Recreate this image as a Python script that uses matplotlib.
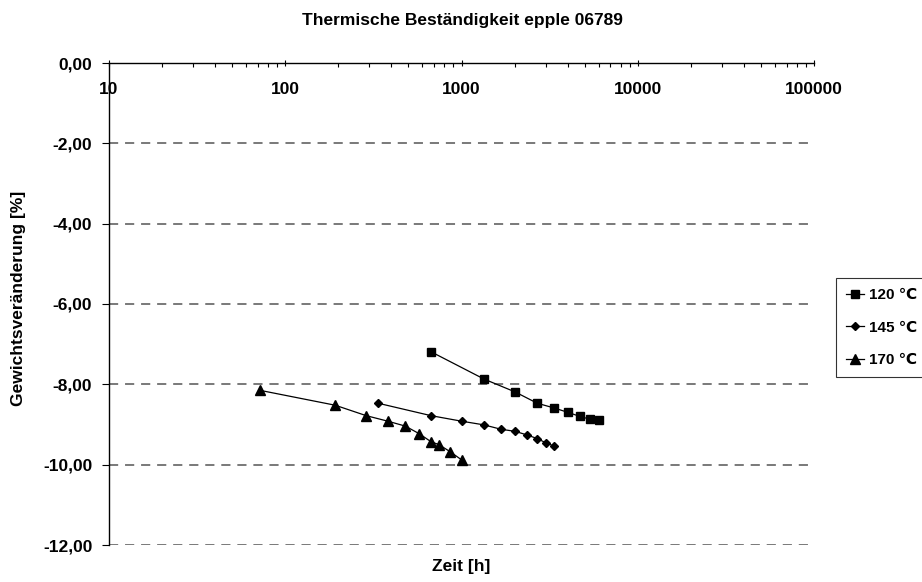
import matplotlib
matplotlib.use("Agg")
import matplotlib.pyplot as plt
from matplotlib.ticker import LogLocator, FixedLocator, FuncFormatter, NullFormatter

plt.rcParams['font.family'] = ['Liberation Sans', 'DejaVu Sans']
plt.rcParams['font.weight'] = 'bold'

title = "Thermische Beständigkeit epple 06789"
xlabel = "Zeit [h]"
ylabel = "Gewichtsveränderung [%]"

series_names = ["120 \u2103", "145 \u2103", "170 \u2103"]

t_120 = [672, 1344, 2016, 2688, 3360, 4032, 4704, 5376, 6048]
w_120 = [-7.19, -7.87, -8.19, -8.47, -8.59, -8.70, -8.80, -8.87, -8.90]

t_145 = [336, 672, 1008, 1344, 1680, 2016, 2352, 2688, 3024, 3360]
w_145 = [-8.47, -8.78, -8.92, -9.01, -9.12, -9.17, -9.26, -9.35, -9.46, -9.54]

t_170 = [72, 192, 288, 384, 480, 576, 672, 744, 864, 1008]
w_170 = [-8.15, -8.52, -8.78, -8.92, -9.04, -9.23, -9.43, -9.50, -9.68, -9.89]

y_ticks = [0, -2, -4, -6, -8, -10, -12]
x_ticks = [10, 100, 1000, 10000, 100000]

FS = 12.5

W, H = 922, 582
fig = plt.figure(figsize=(W / 100, H / 100), dpi=100)
ax = fig.add_axes([109 / W, 1 - 545 / H, (814 - 109) / W, (545 - 63) / H])

ax.set_xscale('log')
ax.set_xlim(10, 100000)
ax.set_ylim(-12, 0)

# dashed gridlines
for yv in y_ticks:
    if yv != 0:
        ax.axhline(yv, color='#555555', lw=1.1, dashes=(6, 4.5), zorder=1)

ax.plot(t_120, w_120, color='black', lw=0.9, marker='s', ms=6.0, label=series_names[0], zorder=3)
ax.plot(t_145, w_145, color='black', lw=0.9, marker='D', ms=4.4, label=series_names[1], zorder=3)
ax.plot(t_170, w_170, color='black', lw=0.9, marker='^', ms=7.0, label=series_names[2], zorder=3)

# spines
ax.spines['right'].set_visible(False)
ax.spines['top'].set_visible(False)
ax.spines['bottom'].set_position(('data', 0))
ax.spines['bottom'].set_color('black')
ax.spines['left'].set_color('black')
ax.spines['bottom'].set_linewidth(1.0)
ax.spines['left'].set_linewidth(1.0)

ax.xaxis.set_major_locator(FixedLocator(x_ticks))
ax.xaxis.set_minor_locator(LogLocator(base=10, subs=range(2, 10)))
ax.xaxis.set_minor_formatter(NullFormatter())
ax.xaxis.set_major_formatter(FuncFormatter(lambda v, p: f"{int(round(v))}"))
ax.tick_params(axis='x', which='major', direction='inout', length=5, width=0.8, pad=11, labelsize=FS)
ax.tick_params(axis='x', which='minor', direction='out', length=3, width=0.8)

ax.yaxis.set_major_locator(FixedLocator(y_ticks))
ax.yaxis.set_major_formatter(FuncFormatter(lambda v, p: f"{v:.2f}".replace('.', ',').replace('-0,00', '0,00')))
ax.tick_params(axis='y', which='major', direction='out', length=5, width=0.8, pad=7, labelsize=FS)
ax.tick_params(axis='y', which='minor', left=False)

for lab in ax.get_xticklabels() + ax.get_yticklabels():
    lab.set_fontweight('bold')

fig.text(462 / W, 1 - 20 / H, title, ha='center', va='center', fontsize=FS, fontweight='bold')
fig.text(461 / W, 1 - 566 / H, xlabel, ha='center', va='center', fontsize=FS, fontweight='bold')
fig.text(19 / W, 1 - 298 / H, ylabel, ha='center', va='center', rotation=90, fontsize=FS, fontweight='bold')

leg = fig.legend(loc='upper left', bbox_to_anchor=(836 / W, 1 - 278 / H), frameon=True,
                 fancybox=False, edgecolor='black', handlelength=1.2, handletextpad=0.3,
                 labelspacing=1.22, borderpad=0.65, borderaxespad=0,
                 prop={'weight': 'bold', 'size': 11})
leg.get_frame().set_linewidth(0.8)

fig.savefig("out.png", dpi=100)
